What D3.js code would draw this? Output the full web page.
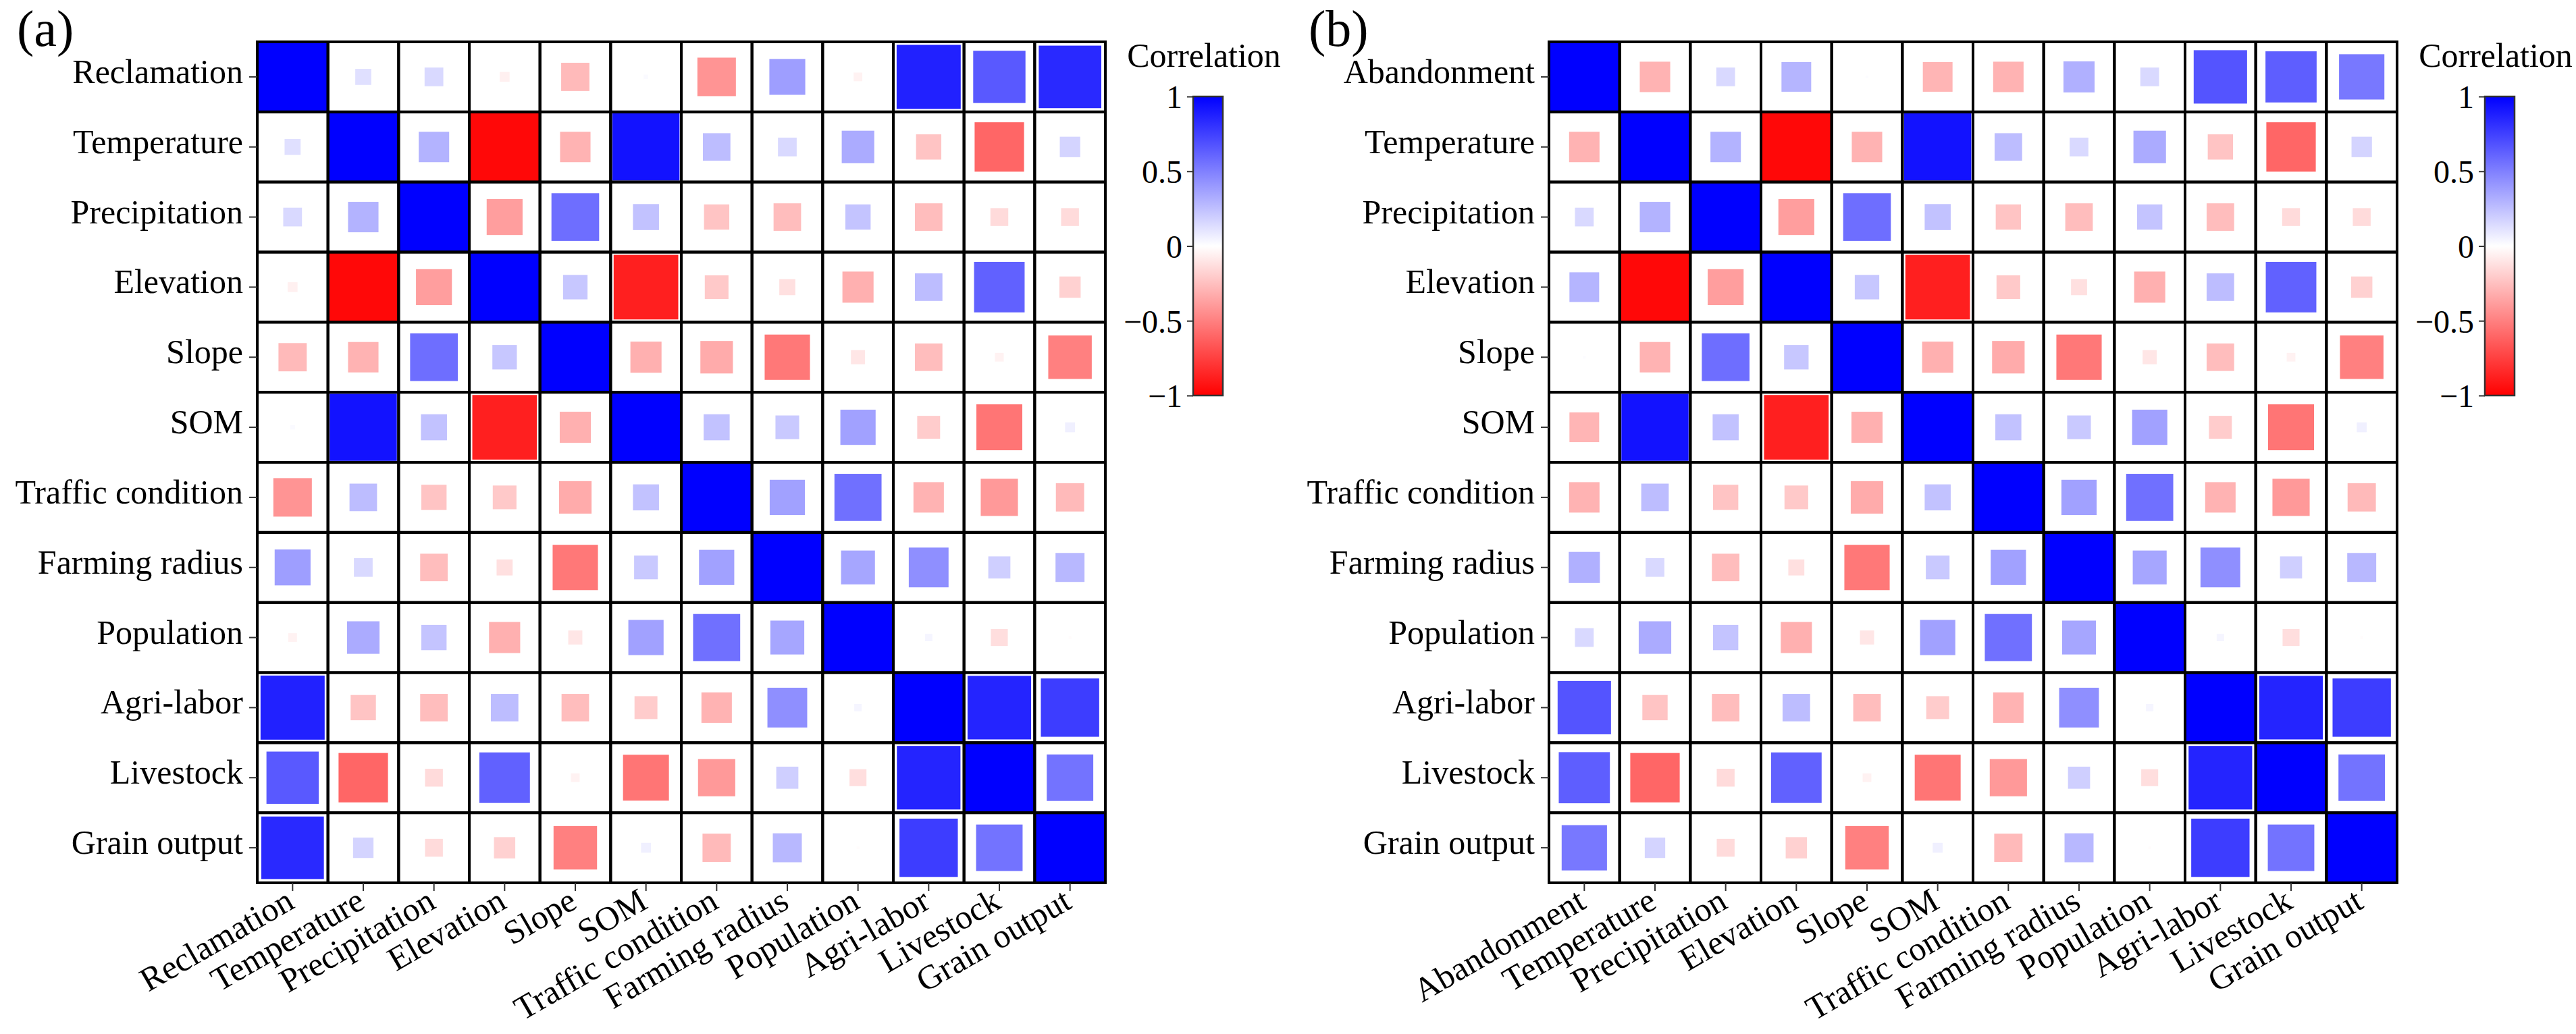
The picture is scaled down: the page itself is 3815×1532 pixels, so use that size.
<!DOCTYPE html>
<html lang="en">
<head>
<meta charset="UTF-8">
<title>Correlation matrices</title>
<script src="https://d3js.org/d3.v7.min.js"></script>
<style>
  body { margin: 0; background: #fff; }
</style>
</head>
<body>
<svg id="chart" width="3815" height="1532"></svg>
<script>
  // variables shared by both panels (everything except the first one)
  const sharedVars = ["Temperature", "Precipitation", "Elevation", "Slope", "SOM",
    "Traffic condition", "Farming radius", "Population", "Agri-labor", "Livestock", "Grain output"];

  // correlations among the shared variables (same order as sharedVars)
  const envCorr = [
    [1.00, 0.30, -0.97, -0.30, 0.93, 0.26, 0.15, 0.33, -0.23, -0.60, 0.17],
    [0.30, 1.00, -0.38, 0.57, 0.24, -0.23, -0.26, 0.23, -0.26, -0.14, -0.14],
    [-0.97, -0.38, 1.00, 0.22, -0.88, -0.21, -0.12, -0.31, 0.26, 0.62, -0.18],
    [-0.30, 0.57, 0.22, 1.00, -0.31, -0.33, -0.53, -0.10, -0.26, -0.05, -0.50],
    [0.93, 0.24, -0.88, -0.31, 1.00, 0.24, 0.21, 0.37, -0.20, -0.54, 0.06],
    [0.26, -0.23, -0.21, -0.33, 0.24, 1.00, 0.37, 0.56, -0.30, -0.40, -0.27],
    [0.15, -0.26, -0.12, -0.53, 0.21, 0.37, 1.00, 0.35, 0.44, 0.19, 0.28],
    [0.33, 0.23, -0.31, -0.10, 0.37, 0.56, 0.35, 1.00, 0.04, -0.13, -0.01],
    [-0.23, -0.26, 0.26, -0.26, -0.20, -0.30, 0.44, 0.04, 1.00, 0.86, 0.76],
    [-0.60, -0.14, 0.62, -0.05, -0.54, -0.40, 0.19, -0.13, 0.86, 1.00, 0.55],
    [0.17, -0.14, -0.18, -0.50, 0.06, -0.27, 0.28, -0.01, 0.76, 0.55, 1.00]
  ];

  // first variable of each panel against itself + sharedVars
  const reclamationCorr = [1.00, 0.12, 0.15, -0.06, -0.27, 0.02, -0.42, 0.38, -0.05, 0.87, 0.65, 0.84];
  const abandonmentCorr = [1.00, -0.30, 0.15, 0.29, 0.01, -0.29, -0.30, 0.31, 0.15, 0.67, 0.63, 0.53];

  const colorTicks = [1, 0.5, 0, -0.5, -1];

  const panels = [
    { label: "(a)", first: "Reclamation", corr: reclamationCorr, x0: 381 },
    { label: "(b)", first: "Abandonment", corr: abandonmentCorr, x0: 2294 }
  ];

  const gridW = 1256, gridH = 1246, y0 = 62;
  const fontSize = 50;
  const serif = "'Liberation Serif', 'Times New Roman', Times, serif";

  const color = d3.scaleLinear()
    .domain([-1, 0, 1])
    .range(["#ff0000", "#ffffff", "#0000ff"]);

  const svg = d3.select("#chart");
  const defs = svg.append("defs");

  // d3 axes put a sans-serif font on the group, swap it for the serif one
  function styleAxis(ax, size) {
    ax.select(".domain").remove();
    ax.attr("font-family", serif).attr("font-size", size);
    ax.selectAll("line").attr("stroke", "#333").attr("stroke-width", 2);
    ax.selectAll("text").attr("fill", "#000").style("font-family", serif).style("font-size", size + "px");
  }

  panels.forEach(function (p, pi) {
    const vars = [p.first].concat(sharedVars);
    // full matrix: first row/col from the panel's own array
    const matrix = vars.map((v, i) => i === 0 ? p.corr : [p.corr[i]].concat(envCorr[i - 1]));
    const cells = [];
    matrix.forEach((row, i) => row.forEach((r, j) => cells.push({ row: vars[i], col: vars[j], r: r })));

    const x = d3.scaleBand().domain(vars).range([p.x0, p.x0 + gridW]);
    const y = d3.scaleBand().domain(vars).range([y0, y0 + gridH]);
    const size = d3.scalePow().exponent(0.7).domain([0, 1]).range([0, x.bandwidth()]);

    const g = svg.append("g");

    // white cell backgrounds
    g.selectAll(".bg").data(cells).enter().append("rect")
      .attr("x", d => x(d.col)).attr("y", d => y(d.row))
      .attr("width", x.bandwidth()).attr("height", y.bandwidth())
      .attr("fill", "#fff");

    // squares
    g.selectAll(".sq").data(cells).enter().append("rect")
      .attr("x", d => x(d.col) + (x.bandwidth() - size(Math.abs(d.r))) / 2)
      .attr("y", d => y(d.row) + (y.bandwidth() - size(Math.abs(d.r))) / 2)
      .attr("width", d => size(Math.abs(d.r)))
      .attr("height", d => size(Math.abs(d.r)))
      .attr("fill", d => color(d.r));

    // grid lines on top
    g.selectAll(".cell").data(cells).enter().append("rect")
      .attr("x", d => x(d.col)).attr("y", d => y(d.row))
      .attr("width", x.bandwidth()).attr("height", y.bandwidth())
      .attr("fill", "none")
      .attr("stroke", "#000")
      .attr("stroke-width", 4);

    // y axis
    const yAxis = svg.append("g")
      .attr("transform", "translate(" + p.x0 + ",0)")
      .call(d3.axisLeft(y).tickSize(12).tickPadding(9));
    styleAxis(yAxis, fontSize);
    yAxis.selectAll("text").attr("dy", "0.18em");

    // x axis with rotated labels
    const xAxis = svg.append("g")
      .attr("transform", "translate(0," + (y0 + gridH) + ")")
      .call(d3.axisBottom(x).tickSize(12));
    styleAxis(xAxis, fontSize);
    xAxis.selectAll("text")
      .attr("x", 0).attr("y", 0).attr("dy", 0)
      .attr("text-anchor", "end")
      .attr("transform", "translate(5,36) rotate(-30)");

    // panel label
    svg.append("text")
      .attr("x", p.x0 - 356).attr("y", 68)
      .style("font-family", serif)
      .style("font-size", "76px")
      .text(p.label);

    // colour bar
    const cbX = p.x0 + gridW + 130, cbW = 44;
    const cb = d3.scaleLinear().domain([-1, 1]).range([586, 143]);
    const grad = defs.append("linearGradient")
      .attr("id", "grad" + pi)
      .attr("x1", 0).attr("y1", 1).attr("x2", 0).attr("y2", 0);
    grad.selectAll("stop").data([-1, -0.5, 0, 0.5, 1]).enter().append("stop")
      .attr("offset", d => (d + 1) / 2)
      .attr("stop-color", d => color(d));

    svg.append("rect")
      .attr("x", cbX).attr("y", cb(1))
      .attr("width", cbW).attr("height", cb(-1) - cb(1))
      .attr("fill", "url(#grad" + pi + ")")
      .attr("stroke", "#333").attr("stroke-width", 2.5);

    const cbAxis = svg.append("g")
      .attr("transform", "translate(" + cbX + ",0)")
      .call(d3.axisLeft(cb).tickValues(colorTicks).tickSize(9).tickPadding(7).tickFormat(d3.format("")));
    styleAxis(cbAxis, 48);
    cbAxis.selectAll("text").attr("dy", "0.35em");

    svg.append("text")
      .attr("x", cbX + cbW / 2 - 6).attr("y", 99)
      .attr("text-anchor", "middle")
      .style("font-family", serif)
      .style("font-size", fontSize + "px")
      .text("Correlation");
  });
</script>
</body>
</html>
